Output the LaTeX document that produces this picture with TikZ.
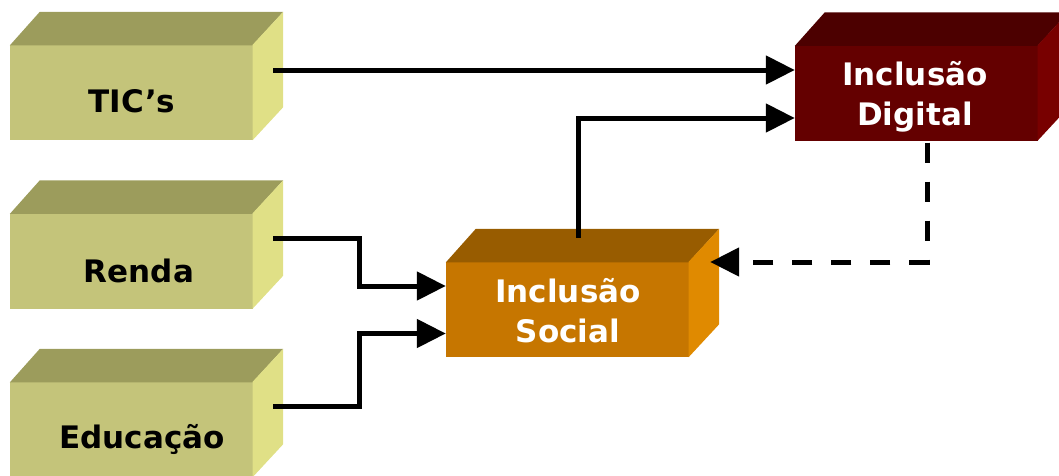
\documentclass[tikz,border=0pt]{standalone}
\usepackage{fontspec}
\setmainfont{DejaVu Sans}
\usetikzlibrary{arrows.meta,calc}

% face colours of the three kinds of block
\definecolor{oliveFront}{HTML}{C4C47A}
\definecolor{oliveTop}{HTML}{9C9C5C}
\definecolor{oliveSide}{HTML}{E0E086}
\definecolor{amberFront}{HTML}{C67600}
\definecolor{amberTop}{HTML}{985C00}
\definecolor{amberSide}{HTML}{E08A00}
\definecolor{wineFront}{HTML}{640000}
\definecolor{wineTop}{HTML}{4C0000}
\definecolor{wineSide}{HTML}{780000}

% top and right faces of a block whose front is the node #1
\newcommand\blockdepth[3]{%
  \fill[#2] ($(#1.north west)+(0,0.6)$) -- ++(30,-33.6) -- ($(#1.north east)+(30,-33)$) -- ($(#1.north east)+(-0.6,0.6)$) -- cycle;
  \fill[#3] ($(#1.north east)+(-0.6,0)$) -- ++(30.6,-33) -- ($(#1.south east)+(30,-33)$) -- ($(#1.south east)+(-0.6,0)$) -- cycle;
}

\begin{document}
\begin{tikzpicture}[x=1pt,y=-1pt,
  front/.style={draw=none, inner sep=0pt, minimum width=243pt, minimum height=95pt},
  lbl/.style={font=\fontsize{31}{40}\selectfont\bfseries, align=center, inner sep=0pt},
  conn/.style={line width=5pt, -{Triangle[length=29pt,width=28pt]}},
  backconn/.style={conn, dash pattern=on 20pt off 19pt},
]
\useasboundingbox (0,0) rectangle (1059,475);

% front faces
\node[front, fill=oliveFront] (tic)   at (131.5,92.5)  {};
\node[front, fill=oliveFront] (renda) at (131.5,261)   {};
\node[front, fill=oliveFront] (edu)   at (131.5,429.5) {};
\node[front, fill=amberFront] (soc)   at (567.5,309.5) {};
\node[front, fill=wineFront]  (dig)   at (916.5,93)    {};

% depth faces
\blockdepth{tic}{oliveTop}{oliveSide}
\blockdepth{renda}{oliveTop}{oliveSide}
\blockdepth{edu}{oliveTop}{oliveSide}
\blockdepth{soc}{amberTop}{amberSide}
\blockdepth{dig}{wineTop}{wineSide}

% labels
\node[lbl, anchor=base] (ticT)   at (132,112) {TIC’s};
\node[lbl, anchor=base] (rendaT) at (139,282) {Renda};
\node[lbl, anchor=base] (eduT)   at (142,448) {Educação};
\node[lbl, text=white]  (socT)   at (568,311) {Inclusão\\Social};
\node[lbl, text=white]  (digT)   at (915,97)  {Inclusão\\Digital};

% connectors
\coordinate (bend) at (359,0);
\draw[conn] ($(tic.east)+(20,-22.5)$) -- ($(dig.west)+(0,-23)$);
\draw[conn] ($(soc.north)+(10.5,-24)$) |- ($(dig.west)+(0,25)$);
\draw[conn] ($(renda.east)+(20,-23)$) coordinate (r0)
  -- (bend |- r0) -- ($(bend |- soc.west)+(0,-23.5)$) -- ($(soc.west)+(0,-23.5)$);
\draw[conn] ($(edu.east)+(20,-23.5)$) coordinate (e0)
  -- (bend |- e0) -- ($(bend |- soc.west)+(0,24)$) -- ($(soc.west)+(0,24)$);
\draw[backconn] ($(dig.south)+(10.5,2)$) |- ($(soc.east)+(21,-47.5)$);
\end{tikzpicture}
\end{document}
